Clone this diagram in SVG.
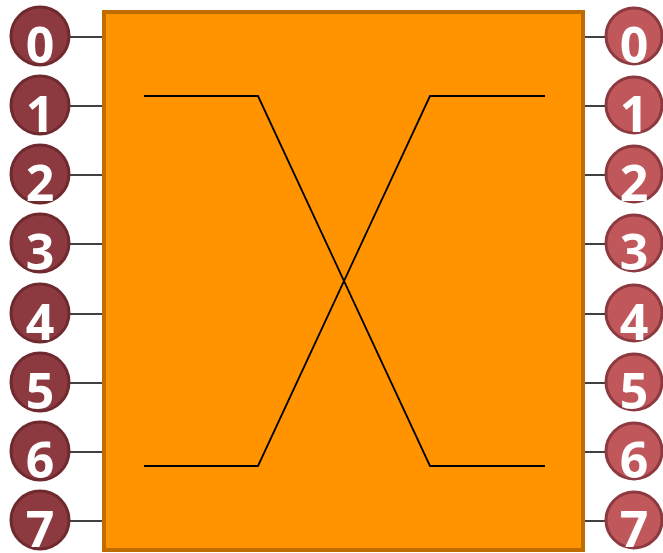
<svg xmlns="http://www.w3.org/2000/svg" width="663" height="553" viewBox="0 0 663 553">
<style>
.lead{stroke:#000;stroke-width:1.5}
.cl{fill:#8C3A40;stroke:#6E2A2E;stroke-width:3}
.cr{fill:#C0575B;stroke:#8C3A40;stroke-width:3}
.num{font-family:"Open Sans","Liberation Sans",sans-serif;font-weight:bold;font-size:50px;fill:#fff;text-anchor:middle}
.wire{fill:none;stroke:#000;stroke-width:1.8}
</style>
<rect width="663" height="553" fill="#fff"/>
<g id="connectors">
<line class="lead" x1="68" y1="37" x2="104" y2="37"/><line class="lead" x1="68" y1="106" x2="104" y2="106"/><line class="lead" x1="68" y1="175" x2="104" y2="175"/><line class="lead" x1="68" y1="244" x2="104" y2="244"/><line class="lead" x1="68" y1="314" x2="104" y2="314"/><line class="lead" x1="68" y1="383" x2="104" y2="383"/><line class="lead" x1="68" y1="452" x2="104" y2="452"/><line class="lead" x1="68" y1="521" x2="104" y2="521"/>
<line class="lead" x1="583" y1="37" x2="607" y2="37"/><line class="lead" x1="583" y1="106" x2="607" y2="106"/><line class="lead" x1="583" y1="175" x2="607" y2="175"/><line class="lead" x1="583" y1="244" x2="607" y2="244"/><line class="lead" x1="583" y1="314" x2="607" y2="314"/><line class="lead" x1="583" y1="383" x2="607" y2="383"/><line class="lead" x1="583" y1="452" x2="607" y2="452"/><line class="lead" x1="583" y1="521" x2="607" y2="521"/>
</g>
<g id="box">
<rect x="104" y="12" width="479" height="538" fill="#FF9400" stroke="#C06C00" stroke-width="4"/>
<polyline class="wire" points="144,96 258,96 430,466 545,466"/>
<polyline class="wire" points="144,466 258,466 430,96 545,96"/>
</g>
<g id="in0"><circle class="cl" cx="40" cy="36" r="29"/><text class="num" x="40" y="63">0</text></g>
<g id="in1"><circle class="cl" cx="40" cy="105" r="29"/><text class="num" x="40" y="132">1</text></g>
<g id="in2"><circle class="cl" cx="40" cy="174" r="29"/><text class="num" x="40" y="201">2</text></g>
<g id="in3"><circle class="cl" cx="40" cy="243" r="29"/><text class="num" x="40" y="270">3</text></g>
<g id="in4"><circle class="cl" cx="40" cy="313" r="29"/><text class="num" x="40" y="340">4</text></g>
<g id="in5"><circle class="cl" cx="40" cy="382" r="29"/><text class="num" x="40" y="409">5</text></g>
<g id="in6"><circle class="cl" cx="40" cy="451" r="29"/><text class="num" x="40" y="478">6</text></g>
<g id="in7"><circle class="cl" cx="40" cy="520" r="29"/><text class="num" x="40" y="547">7</text></g>
<g id="out0"><circle class="cr" cx="634" cy="36" r="28"/><text class="num" x="634" y="63">0</text></g>
<g id="out1"><circle class="cr" cx="634" cy="105" r="28"/><text class="num" x="634" y="132">1</text></g>
<g id="out2"><circle class="cr" cx="634" cy="174" r="28"/><text class="num" x="634" y="201">2</text></g>
<g id="out3"><circle class="cr" cx="634" cy="243" r="28"/><text class="num" x="634" y="270">3</text></g>
<g id="out4"><circle class="cr" cx="634" cy="313" r="28"/><text class="num" x="634" y="340">4</text></g>
<g id="out5"><circle class="cr" cx="634" cy="382" r="28"/><text class="num" x="634" y="409">5</text></g>
<g id="out6"><circle class="cr" cx="634" cy="451" r="28"/><text class="num" x="634" y="478">6</text></g>
<g id="out7"><circle class="cr" cx="634" cy="520" r="28"/><text class="num" x="634" y="547">7</text></g>
</svg>
